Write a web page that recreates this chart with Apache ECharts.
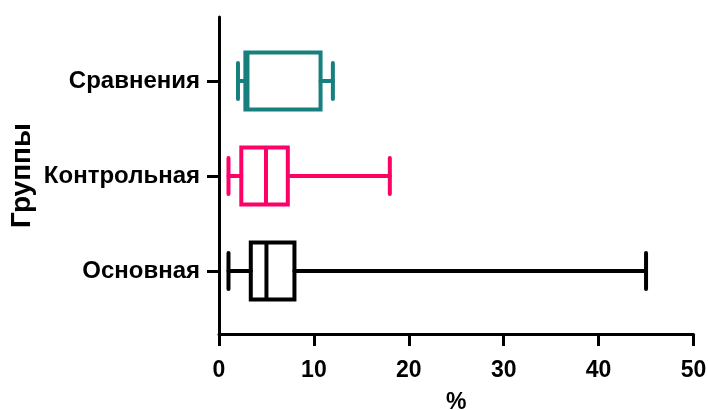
<!DOCTYPE html>
<html>
<head>
<meta charset="utf-8">
<script src="https://cdn.jsdelivr.net/npm/echarts@6/dist/echarts.min.js"></script>
<style>html,body{margin:0;padding:0;background:#fff}#c{width:708px;height:410px}</style>
</head>
<body>
<div id="c"></div>
<script>
// Groups, bottom to top
const categories = ['Основная', 'Контрольная', 'Сравнения'];
const minValues    = [1.0, 1.0, 2.0];
const q1Values     = [3.35, 2.35, 2.78];
const medianValues = [5.0, 4.95, 3.0];
const q3Values     = [7.95, 7.25, 10.7];
const maxValues    = [45.0, 18.0, 12.0];
const xTicks = [0, 10, 20, 30, 40, 50];
const groupColors = ['#000000', '#ff0066', '#17807e'];

const FONT = '"Liberation Sans", Arial, sans-serif';
const data = categories.map((c, i) => [i, minValues[i], q1Values[i], medianValues[i], q3Values[i], maxValues[i]]);

function renderItem(params, api) {
  const yv = api.value(0);
  const p = [1, 2, 3, 4, 5].map(k => api.coord([api.value(k), yv]));
  const cy = p[0][1];
  const boxH = api.size([0, 0.6])[1];
  const capH = api.size([0, 0.38])[1];
  const color = groupColors[params.dataIndex];
  const lineStyle = { stroke: color, lineWidth: 4, fill: null, lineCap: 'round' };
  const boxStyle = { stroke: color, lineWidth: 4, fill: null };
  return {
    type: 'group',
    children: [
      { type: 'line', shape: { x1: p[0][0], y1: cy, x2: p[1][0], y2: cy }, style: lineStyle },
      { type: 'line', shape: { x1: p[3][0], y1: cy, x2: p[4][0], y2: cy }, style: lineStyle },
      { type: 'line', shape: { x1: p[0][0], y1: cy - capH / 2, x2: p[0][0], y2: cy + capH / 2 }, style: lineStyle },
      { type: 'line', shape: { x1: p[4][0], y1: cy - capH / 2, x2: p[4][0], y2: cy + capH / 2 }, style: lineStyle },
      { type: 'rect', shape: { x: p[1][0], y: cy - boxH / 2, width: p[3][0] - p[1][0], height: boxH }, style: boxStyle },
      { type: 'line', shape: { x1: p[2][0], y1: cy - boxH / 2, x2: p[2][0], y2: cy + boxH / 2 }, style: boxStyle }
    ]
  };
}

const chart = echarts.init(document.getElementById('c'), null, { renderer: 'canvas' });
chart.setOption({
  animation: false,
  backgroundColor: '#ffffff',
  grid: { left: 219, right: 14.5, top: 17, bottom: 76, containLabel: false, outerBoundsMode: 'none' },
  xAxis: {
    type: 'value', min: xTicks[0], max: xTicks[xTicks.length - 1], interval: 10,
    name: '%', nameLocation: 'middle', nameGap: 57,
    nameTextStyle: { fontFamily: FONT, fontWeight: 'bold', fontSize: 23, color: '#000' },
    axisLine: { show: true, onZero: false, lineStyle: { color: '#000', width: 3 } },
    axisTick: { show: true, length: 12, lineStyle: { color: '#000', width: 3 } },
    axisLabel: { margin: 25, fontFamily: FONT, fontWeight: 'bold', fontSize: 23, color: '#000' },
    splitLine: { show: false }
  },
  yAxis: [{
    type: 'value', min: -0.663, max: 2.674, position: 'left',
    axisLine: { show: true, onZero: false, lineStyle: { color: '#000', width: 3 } },
    axisTick: { show: true, length: 12, customValues: [0, 1, 2], lineStyle: { color: '#000', width: 3 } },
    axisLabel: { margin: 19, customValues: [0, 1, 2], fontFamily: FONT, fontWeight: 'bold', fontSize: 24, color: '#000',
      formatter: v => categories[Math.round(v)] || '' },
    splitLine: { show: false }
  }, {
    type: 'value', min: -0.663, max: 2.674, position: 'left', offset: 0,
    name: 'Группы', nameLocation: 'middle', nameGap: 183, nameRotate: 90,
    nameTextStyle: { fontFamily: FONT, fontWeight: 'bold', fontSize: 28, color: '#000' },
    axisLine: { show: false, onZero: false },
    axisTick: { show: false },
    axisLabel: { show: false },
    splitLine: { show: false }
  }],
  series: [{
    type: 'custom',
    renderItem: renderItem,
    encode: { x: [1, 2, 3, 4, 5], y: 0 },
    yAxisIndex: 0,
    data: data,
    clip: false
  }]
});
</script>
</body>
</html>
